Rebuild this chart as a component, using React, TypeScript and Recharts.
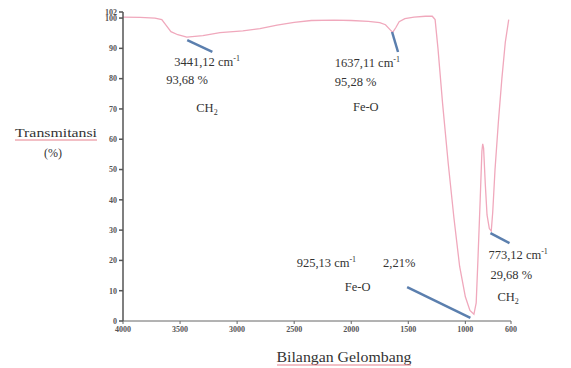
import React from "react";
import { LineChart, Line, XAxis, YAxis, ReferenceLine, ReferenceDot } from "recharts";

// FTIR spectrum: wavenumber (cm-1) and transmittance (%)
const wavenumbers = [4000, 3850, 3720, 3660, 3620, 3580, 3520, 3441, 3300, 3150, 2950, 2800, 2650, 2500, 2350, 2150, 2000, 1850, 1750, 1700, 1660, 1637, 1610, 1580, 1530, 1450, 1350, 1290, 1265, 1240, 1200, 1150, 1100, 1050, 1000, 960, 925, 905, 890, 870, 855, 848, 840, 825, 810, 790, 773, 760, 740, 710, 680, 650, 620];
const transmittance = [100.3, 100.2, 100, 99.5, 97.5, 95.5, 94.5, 93.68, 94.2, 95.2, 95.8, 96.5, 97.7, 98.6, 99.2, 99.3, 99.2, 98.9, 98.5, 97.8, 96.2, 95.28, 96.8, 98.8, 99.8, 100.3, 100.6, 100.6, 99.5, 90, 72, 52, 34, 18, 8, 3.5, 2.21, 6, 20, 40, 56, 58.5, 57, 45, 35, 30.5, 29.68, 36, 50, 66, 80, 92, 99.5];

const xTicks = [4000, 3500, 3000, 2500, 2000, 1500, 1000, 600];
const yTicks = [0, 10, 20, 30, 40, 50, 60, 70, 80, 90, 100, 102];

const xTitle = "Bilangan Gelombang";
const yTitle = "Transmitansi";
const yUnit = "(%)";

// annotation texts: [wavenumber, transmittance] anchor, main text, superscript, subscript
type Ann = { wn: number; t: number; text: string; sup?: string; sub?: string };
const annotations: Ann[] = [
  { wn: 3551, t: 84.2, text: "3441,12 cm", sup: "-1" },
  { wn: 3622, t: 78.2, text: "93,68 %" },
  { wn: 3358, t: 69.0, text: "CH", sub: "2" },
  { wn: 2144, t: 83.8, text: "1637,11 cm", sup: "-1" },
  { wn: 2144, t: 77.6, text: "95,28 %" },
  { wn: 1985, t: 69.3, text: "Fe-O" },
  { wn: 2478, t: 17.8, text: "925,13 cm", sup: "-1" },
  { wn: 1721, t: 17.8, text: "2,21%" },
  { wn: 2056, t: 9.9, text: "Fe-O" },
  { wn: 798, t: 20.5, text: "773,12 cm", sup: "-1" },
  { wn: 780, t: 13.9, text: "29,68 %" },
  { wn: 719, t: 6.6, text: "CH", sub: "2" },
];

// pointer segments [wn1, t1, wn2, t2]
const pointers: [number, number, number, number][] = [
  [3437, 92.7, 3217, 88.8],
  [1642, 95.4, 1590, 88.8],
  [1510, 11.2, 956, 1.0],
  [780, 29.0, 613, 25.7],
];

const data = wavenumbers.map((wn, i) => ({ wn, t: transmittance[i] }));

const FONT = "'Liberation Serif'";
const tickStyle = { fontFamily: FONT, fontSize: 8, fill: "#555", fontWeight: 700 };

const YTitle = (props: any) => {
  const vb = props.viewBox || { x: 0, y: 0 };
  const cx = vb.x + 56;
  return (
    <g>
      <text x={cx} y={137} textAnchor="middle" style={{ fontFamily: FONT, fontSize: 13 }} fill="#333" textLength={82} lengthAdjust="spacingAndGlyphs">
        {yTitle}
      </text>
      <line x1={cx - 41} x2={cx + 41} y1={140} y2={140} stroke="#e06070" strokeWidth={0.8} />
      <text x={cx - 3} y={157} textAnchor="middle" style={{ fontFamily: FONT, fontSize: 12 }} fill="#333">
        {yUnit}
      </text>
    </g>
  );
};

const XTitle = (props: any) => {
  const vb = props.viewBox || { x: 0, y: 0, width: 0 };
  const cx = 344;
  const y = vb.y + 41;
  return (
    <g>
      <text x={cx} y={y} textAnchor="middle" style={{ fontFamily: FONT, fontSize: 14 }} fill="#333" textLength={135} lengthAdjust="spacingAndGlyphs">
        {xTitle}
      </text>
      <line x1={cx - 67} x2={cx + 67} y1={y + 3} y2={y + 3} stroke="#e06070" strokeWidth={0.8} />
    </g>
  );
};

const annShape = (a: Ann) => (p: any) => (
  <text x={p.cx} y={p.cy} style={{ fontFamily: FONT, fontSize: 12.5 }} fill="#333">
    {a.text}
    {a.sup ? (
      <tspan dy={-5} style={{ fontSize: 8 }}>
        {a.sup}
      </tspan>
    ) : null}
    {a.sub ? (
      <tspan dy={3} style={{ fontSize: 8 }}>
        {a.sub}
      </tspan>
    ) : null}
  </text>
);

export default function App() {
  return (
    <div style={{ position: "absolute", left: 0, top: 0, width: 571, height: 368, background: "#fff", fontFamily: FONT }}>
      <LineChart width={571} height={368} data={data} margin={{ top: 12, right: 60, left: 0, bottom: 0 }}>
        <XAxis
          dataKey="wn"
          type="number"
          domain={[600, 4000]}
          reversed
          ticks={xTicks}
          interval={0}
          height={47}
          tickSize={3}
          tick={tickStyle}
          stroke="#666"
          allowDataOverflow
          label={<XTitle />}
        />
        <YAxis
          type="number"
          domain={[0, 102]}
          ticks={yTicks}
          interval={0}
          width={123}
          tickSize={4}
          tick={tickStyle}
          stroke="#555"
          strokeWidth={1.5}
          allowDataOverflow
          label={<YTitle />}
        />
        <Line type="linear" dataKey="t" stroke="#f0a8bc" strokeWidth={1.3} dot={false} isAnimationActive={false} />
        {pointers.map((s, i) => (
          <ReferenceLine
            key={"p" + i}
            segment={[{ x: s[0], y: s[1] }, { x: s[2], y: s[3] }]}
            stroke="#5b7fae"
            strokeWidth={2.5}
            ifOverflow="visible"
          />
        ))}
        {annotations.map((a, i) => (
          <ReferenceDot key={"a" + i} x={a.wn} y={a.t} r={0} ifOverflow="visible" shape={annShape(a)} />
        ))}
      </LineChart>
    </div>
  );
}
